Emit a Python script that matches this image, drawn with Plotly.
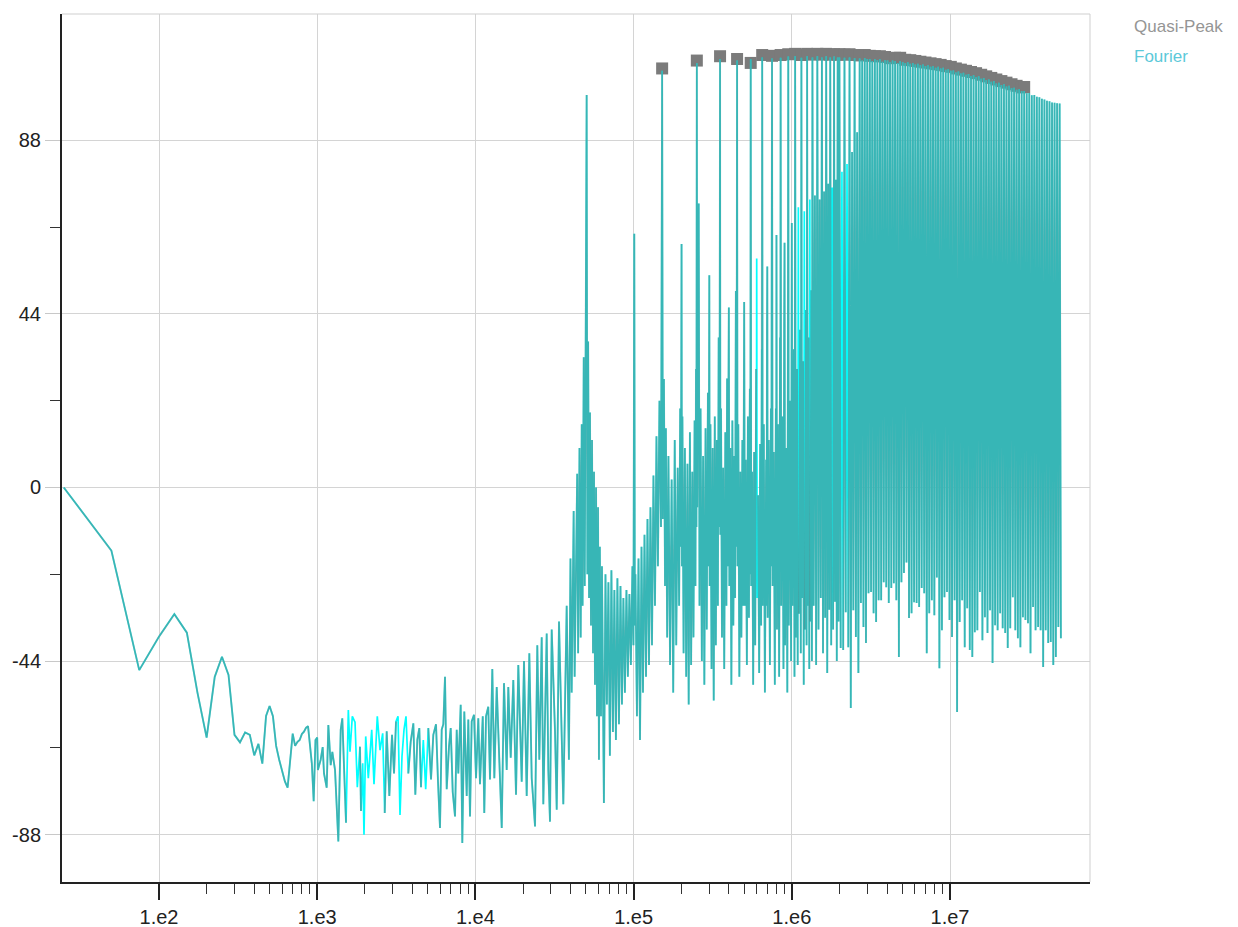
import numpy as np
import plotly.graph_objects as go

# ---------------- spectrum data ----------------
# low-frequency part, 25 Hz bins
low_freq_hz = [25, 50, 75, 100, 125, 150, 175, 200, 225, 250, 275, 300, 325, 350, 375,
               400, 425, 450, 475, 500, 525, 550, 575, 600, 625, 650, 675, 700, 725, 750,
               775, 800, 825, 850, 875, 900, 925, 950, 975]
low_db = [0, -16, -46.3, -37.8, -32.1, -36.8, -52, -63.4, -48, -42.9, -47.5, -62.7, -64.6, -62.1, -62.7,
          -67.9, -65, -70, -57.9, -55.4, -58, -65.5, -69, -72, -74.5, -76.1, -68.6, -62.4, -65.5, -64.5,
          -64, -62.5, -61.9, -60.9, -60.5, -65.7, -70, -79.5, -64]

# noise floor 1 kHz .. 40 kHz
noise_freq_hz = [1000, 1010, 1052, 1083, 1104, 1148, 1176, 1217, 1246, 1296, 1360, 1408, 1441, 1477,
                 1521, 1573, 1612, 1667, 1734, 1793, 1864, 1891, 1939, 1976, 2026, 2104, 2211, 2286,
                 2398, 2495, 2594, 2672, 2750, 2857, 2971, 3059, 3149, 3242, 3337, 3436, 3538, 3641,
                 3766, 3899, 4052, 4171, 4294, 4420, 4531, 4685, 4851, 5038, 5241, 5419, 5637, 5802,
                 5973, 6124, 6268, 6425, 6586, 6809, 6982, 7188, 7433, 7619, 7798, 8074, 8265, 8508,
                 8811, 9018, 9245, 9476, 9799, 10090, 10430, 10690, 11130, 11380, 11670, 12060, 12370,
                 12790, 13170, 13640, 14100, 14670, 15160, 15770, 16140, 16720, 17360, 18060, 18670,
                 19620, 20290, 21100, 21920, 22700, 23820, 24620, 25350, 26250, 26870, 28230, 28900,
                 29620, 30360, 31860, 32660, 33770, 35950, 37760, 39000]
noise_db = [-63.4, -71.6, -69, -65.8, -72.5, -76.1, -60.2, -70.4, -67, -71.6, -89.7, -61.4, -58.5, -69,
            -85, -56.4, -67, -58, -59.5, -76, -65.7, -82, -69.9, -88, -63.1, -73.7, -61.4, -75.2,
            -58, -66.6, -62.3, -82.5, -61.8, -78.2, -62.7, -72.5, -59.3, -58, -83, -68.1, -61.4, -58,
            -72.5, -64.5, -59.8, -77.9, -64, -61, -76, -64, -76.5, -61, -74, -62.7, -60, -74.6,
            -86.3, -61.4, -60, -48, -76.5, -65.7, -61, -77.2, -83.4, -61.4, -72.5, -55.1, -90.1, -56.8,
            -78.2, -58.8, -83.4, -59.3, -57.6, -73.7, -58.5, -75.2, -58, -82.5, -58, -55.6, -74,
            -46, -73.7, -50.6, -69, -86.3, -49.6, -71.6, -50.6, -68.5, -48.8, -77.9, -45,
            -74.6, -44, -78.2, -42, -73.7, -85.9, -40, -69, -38, -80.3, -37, -71.6,
            -84.7, -36, -61.8, -81.7, -34, -80.3, -30, -69]

# fundamental (50 kHz) with its side lobes
lobe_freq_hz = [39900, 40600, 41800, 42400, 44000, 44600, 45500, 46300, 47000, 47600, 48400, 49100,
                50500, 51000, 51600, 52300, 53000, 53800, 54600, 55400, 56200, 57000, 57900, 58700,
                59600, 60400, 61200]
lobe_db = [-18, -52, -6, -48, 3.5, -42, 10, -38, 16, -30, 33, -25,
           99.5, -22, 37, -28, 19, -35, 12, -42, 4, -50, 0, -58,
           -5, -69, -15]

# 60 kHz .. 150 kHz
gap_freq_hz = [62200, 63100, 64900, 66400, 67800, 69300, 70800, 72400, 74000, 75600, 77300, 79000,
               80800, 82600, 84400, 86200, 88100, 90100, 92000, 94100, 96100, 98300, 99800, 101000,
               101800, 102700, 105000, 107400, 109800, 112200, 114600, 117200, 119800, 122400,
               125100, 127800, 130700, 133500, 136500, 139500, 142500, 145700, 149000]
gap_db = [-58, -20, -80, -22, -55, -24, -68, -21, -62, -26, -64, -23,
          -60, -25, -55, -28, -52, -26, -48, -27, -45, -20, -40, 64.3,
          -35, -22, -58, -18, -64, -15, -52, -12, -48, -8,
          -45, -5, -40, 3, -30, 13, -20, 22, -10]

# harmonic comb 150 kHz .. 2 MHz
comb_freq_hz = [151500, 153000, 155500, 158000, 160000, 163000, 166000, 170000, 174000, 178000,
                182000, 186000, 190000, 194000, 197000, 199000, 201000, 202000, 203500, 207000,
                211000, 215000, 219000, 223000, 227000, 231000, 235000, 239000, 243000, 246000,
                248000, 249500, 251000, 252500, 258000, 261000, 265000, 270000, 275000, 280000,
                285000, 290000, 295000, 298000, 301000, 302500, 306000, 311000, 316000, 321000,
                326000, 331000, 336000, 341000, 345000, 349000, 352000, 353500, 357000, 362000,
                368000, 374000, 380000, 386000, 390000, 394000, 400000, 403000, 409000, 415000,
                421000, 427000, 433000, 438000, 443000, 447000, 451000, 453500, 459000, 466000,
                473000, 480000, 487000, 493000, 500000, 505000, 512000, 520000, 528000, 536000,
                543000, 547000, 550000, 554000, 561000, 570000, 578000, 587000, 595000, 597000,
                600000, 604000, 612000, 622000, 631000, 640000, 646000, 648000, 650000, 655000,
                665000, 676000, 688000, 693000, 697000, 698500, 700000, 704000, 715000, 727000,
                738000, 743000, 746000, 748000, 750000, 756000, 769000, 781000, 793000, 797000,
                800000, 806000, 818000, 832000, 843000, 847000, 850000, 857000, 871000, 886000,
                895000, 897000, 900000, 907000, 922000, 937000, 946000, 948000, 950000, 957000,
                973000, 990000, 1000000, 1010000, 1030000, 1040000, 1050000, 1060000, 1080000,
                1090000, 1100000, 1110000, 1130000, 1140000, 1150000, 1160000, 1180000, 1190000,
                1200000, 1210000, 1230000, 1240000, 1250000, 1260000, 1280000, 1290000, 1300000,
                1310000, 1330000, 1340000, 1350000, 1375000, 1400000, 1425000, 1450000, 1475000,
                1500000, 1525000, 1550000, 1575000, 1600000, 1625000, 1650000, 1675000, 1700000,
                1725000, 1750000, 1775000, 1800000, 1825000, 1850000, 1875000, 1900000, 1925000,
                1950000, 1975000]
comb_db = [105.6, -8, 27.5, -25, 15, -38, 8, -45, 2, -52,
           12, -40, 5, -30, 20, -15, 61.7, -20, 18, -42,
           10, -48, 6, -55, 14, -45, 4, -38, 17, -25,
           30, -10, 107.5, -5, 72, -30, 20, -44, 8, -50,
           15, -36, 24, -20, 53.8, -25, 16, -46, 10, -54,
           18, -40, 12, -30, 38, -10, 108.6, -12, 20, -38,
           5, -46, 14, -30, 27.6, -20, 45.6, -25, 10, -50,
           17, -35, 8, -28, 49.8, -15, 108.2, -20, 16, -48,
           4, -38, 12, -30, 47, -30, 7, -45, 18, -33,
           25, -22, 108.5, -25, 4, -50, 9, -40, 30, -20,
           58, -28, -2, -47, 11, -35, 35, -15, 109.0, -30,
           16, -52, 7, -30, 40, -10, 56, -33, 12, -45,
           20, -20, 45, -5, 108.7, -25, 9, -50, 20, -20,
           64, -36, 16, -48, 38, -10, 108.9, -30, 18, -46,
           42, -10, 62, -40, 10, -52, 48, -8, 109.2, -35,
           22, -44, 67, -30, 35, -48, 109.3, -38, 30,
           -45, 71, -32, 40, -42, 108.9, -28, 32, -50,
           70, -36, 45, -40, 109.3, -30, 38, -46, 73,
           -34, 50, -44, 109.0, -30, 74, -45, 109.3, -36,
           73, -28, 109.0, -42, 75, -33, 109.3, -47, 77,
           -31, 109.0, -40, 76, -36, 109.2, -29, 78, -44,
           109.0, -34]

# dense comb 2 MHz .. 50 MHz: peak and floor samples (MHz)
dense_peak_mhz = [2.000, 2.075, 2.153, 2.234, 2.317, 2.404, 2.495, 2.588, 2.685, 2.786,
                  2.891, 2.999, 3.112, 3.228, 3.350, 3.475, 3.606, 3.741, 3.882, 4.027,
                  4.178, 4.335, 4.498, 4.667, 4.842, 5.023, 5.212, 5.408, 5.610, 5.821,
                  6.039, 6.266, 6.501, 6.745, 6.998, 7.261, 7.534, 7.816, 8.110, 8.414,
                  8.730, 9.057, 9.397, 9.750, 10.12, 10.50, 10.89, 11.30, 11.72, 12.16,
                  12.62, 13.09, 13.58, 14.09, 14.62, 15.17, 15.74, 16.33, 16.94, 17.58,
                  18.24, 18.92, 19.63, 20.37, 21.13, 21.93, 22.75, 23.60, 24.49, 25.41,
                  26.36, 27.35, 28.38, 29.44, 30.55, 31.70, 32.89, 34.12, 35.40, 36.73,
                  38.11, 39.54, 41.02, 42.56, 44.16, 45.81, 47.53, 49.32]
dense_peak_db = [109.0, 80, 108.9, 82, 109.0, 85, 108.8, 90, 108.7, 108.2,
                 108.8, 108.5, 108.6, 108.1, 108.5, 108.3, 108.5, 107.9, 108.3, 108.2,
                 107.8, 108.2, 108.0, 107.6, 108.0, 107.8, 107.5, 107.8, 107.4, 107.6,
                 107.2, 107.4, 107.0, 107.2, 106.8, 107.0, 106.6, 106.8, 106.4, 106.6,
                 106.2, 106.4, 105.9, 106.0, 105.6, 105.7, 105.2, 105.4, 104.9, 105.1,
                 104.6, 104.8, 104.3, 104.5, 104.0, 104.2, 103.6, 103.8, 103.2, 103.4,
                 102.8, 103.0, 102.4, 102.6, 102.0, 102.2, 101.6, 101.8, 101.2, 101.3,
                 100.8, 100.9, 100.4, 100.5, 99.9, 100.0, 99.4, 99.5, 99.0, 98.9,
                 98.5, 98.3, 98.0, 97.9, 97.6, 97.5, 97.4, 97.3]
dense_floor_mhz = [2.037, 2.113, 2.193, 2.275, 2.360, 2.449, 2.541, 2.636, 2.735, 2.838,
                   2.944, 3.055, 3.170, 3.289, 3.412, 3.540, 3.673, 3.811, 3.954, 4.102,
                   4.256, 4.416, 4.581, 4.753, 4.932, 5.117, 5.309, 5.508, 5.715, 5.929,
                   6.152, 6.383, 6.622, 6.871, 7.129, 7.396, 7.674, 7.962, 8.260, 8.570,
                   8.892, 9.226, 9.572, 9.931, 10.30, 10.69, 11.09, 11.51, 11.94, 12.39,
                   12.85, 13.34, 13.84, 14.35, 14.89, 15.45, 16.03, 16.63, 17.26, 17.91,
                   18.58, 19.28, 20.00, 20.75, 21.53, 22.34, 23.17, 24.04, 24.95, 25.88,
                   26.85, 27.86, 28.91, 29.99, 31.12, 32.28, 33.50, 34.75, 36.06, 37.41,
                   38.82, 40.27, 41.78, 43.35, 44.98, 46.67, 48.42, 50.23]
dense_floor_db = [-40.7, -41.2, -31.6, -40.5, -55.9, -31.1, -37.9, -47.0, -29.3, -35.4,
                  -39.4, -26.8, -26.5, -31.9, -34.1, -28.6, -28.6, -24.0, -25.3, -29.3,
                  -25.5, -24.3, -28.6, -43.0, -24.0, -21.7, -19.0, -33.1, -31.9, -29.1,
                  -29.3, -30.3, -25.5, -26.8, -42.0, -31.9, -28.6, -32.4, -22.8, -45.8,
                  -36.2, -27.8, -26.5, -33.6, -37.9, -28.6, -56.9, -34.1, -28.6, -40.5,
                  -30.6, -41.2, -43.0, -36.7, -36.2, -26.5, -38.7, -32.9, -36.9, -31.1,
                  -44.5, -34.9, -36.2, -31.9, -35.7, -36.9, -40.7, -35.7, -27.8, -36.2,
                  -38.2, -40.5, -32.9, -33.6, -34.4, -42.0, -30.3, -36.2, -35.4, -36.2,
                  -45.5, -36.2, -39.4, -39.2, -45.0, -43.0, -35.4, -38.2]

# quasi-peak detector readings (150 kHz .. 30 MHz)
qp_freq_hz = [151.5e3, 251e3, 352e3, 451e3, 550e3, 650e3, 750e3, 850e3, 950e3, 1.05e6,
              1.15e6, 1.25e6, 1.35e6, 1.45e6, 1.55e6, 1.65e6, 1.75e6, 1.85e6, 1.95e6,
              2.000e6, 2.153e6, 2.317e6, 2.495e6, 2.685e6, 2.891e6, 3.112e6, 3.350e6, 3.606e6,
              3.882e6, 4.178e6, 4.498e6, 4.842e6, 5.212e6, 5.610e6, 6.039e6, 6.501e6, 6.998e6,
              7.534e6, 8.110e6, 8.730e6, 9.397e6, 10.12e6, 10.89e6, 11.72e6, 12.62e6, 13.58e6,
              14.62e6, 15.74e6, 16.94e6, 18.24e6, 19.63e6, 21.13e6, 22.75e6, 24.49e6, 26.36e6,
              28.38e6, 29.44e6]
qp_db = [106.2, 108.2, 109.3, 108.6, 107.6, 109.6, 109.4, 109.6, 109.8, 109.9,
         109.6, 109.9, 109.7, 109.9, 109.7, 109.9, 109.7, 109.8, 109.7,
         109.8, 109.7, 109.8, 109.6, 109.5, 109.6, 109.4, 109.3, 109.3,
         109.1, 108.8, 108.9, 108.9, 108.4, 108.3, 108.1, 107.9, 107.7,
         107.5, 107.3, 107.1, 106.8, 106.6, 106.2, 105.9, 105.6, 105.3,
         105.0, 104.6, 104.2, 103.8, 103.4, 103.0, 102.6, 102.2, 101.8,
         101.4, 101.5]

# stretches where the quasi-peak trace does not follow the spectrum
qp_open_bands_hz = [(1.55e3, 1.8e3), (1.93e3, 2.25e3), (2.35e3, 2.6e3), (3.2e3, 3.7e3),
                    (4.6e3, 4.9e3), (5.96e5, 6.05e5), (1.095e6, 1.105e6), (1.195e6, 1.205e6),
                    (1.295e6, 1.305e6), (1.795e6, 1.805e6), (2.07e6, 2.08e6), (2.23e6, 2.24e6)]

x_tick_vals = [1e2, 1e3, 1e4, 1e5, 1e6, 1e7]
x_tick_text = ["1.e2", "1.e3", "1.e4", "1.e5", "1.e6", "1.e7"]
x_minor_vals = [m * d for d in (1e2, 1e3, 1e4, 1e5, 1e6) for m in range(2, 10)]
y_tick_vals = [-88, -44, 0, 44, 88]
y_tick_text = ["-88", "-44", "0", "44", "88"]
y_minor_vals = [-66, -22, 22, 66]

# ---------------- assemble series ----------------
dense_hz, dense_db = [], []
for fp, vp, ff, vf in zip(dense_peak_mhz, dense_peak_db, dense_floor_mhz, dense_floor_db):
    dense_hz += [fp * 1e6, ff * 1e6]
    dense_db += [vp, vf]

freq_hz = np.array(low_freq_hz + noise_freq_hz + lobe_freq_hz + gap_freq_hz
                   + comb_freq_hz + dense_hz, dtype=float)
fourier_db = np.array(low_db + noise_db + lobe_db + gap_db + comb_db + dense_db, dtype=float)

qp_trace_db = fourier_db.astype(object)
for lo, hi in qp_open_bands_hz:
    qp_trace_db[(freq_hz > lo) & (freq_hz < hi)] = None

# ---------------- figure ----------------
fig = go.Figure()
fig.add_trace(go.Scatter(x=qp_freq_hz, y=qp_db, mode="markers", name="Quasi-Peak",
                         marker=dict(symbol="square", size=12, color="#7b7b7b",
                                     line=dict(width=0)), hoverinfo="skip"))
fig.add_trace(go.Scatter(x=freq_hz, y=fourier_db, mode="lines", name="Fourier",
                         line=dict(color="#00ffff", width=1.7)))
fig.add_trace(go.Scatter(x=freq_hz, y=qp_trace_db, mode="lines", name="Quasi-Peak",
                         connectgaps=False, showlegend=False,
                         line=dict(color="rgba(110,110,110,0.5)", width=1.9)))

fig.update_layout(
    width=1238, height=927,
    margin=dict(l=62, r=148, t=14, b=45, autoexpand=False),
    paper_bgcolor="white", plot_bgcolor="white",
    showlegend=False,
    font=dict(family="Liberation Sans, Arial, sans-serif", size=21, color="#222222"),
)
fig.update_xaxes(
    type="log", range=[1.3868, 7.885], automargin=False,
    tickmode="array", tickvals=x_tick_vals, ticktext=x_tick_text,
    ticks="outside", ticklen=16, tickwidth=1.5, tickcolor="#222222",
    tickfont=dict(size=20),
    showgrid=True, gridcolor="#d4d4d4", gridwidth=1,
    showline=True, linecolor="#222222", linewidth=2, zeroline=False,
    minor=dict(ticks="outside", ticklen=10, tickwidth=1, tickcolor="#333333",
               tickmode="array", tickvals=x_minor_vals, showgrid=False),
)
fig.update_yaxes(
    range=[-100, 120], automargin=False,
    tickmode="array", tickvals=y_tick_vals, ticktext=y_tick_text,
    ticks="outside", ticklen=15, tickwidth=1, tickcolor="#c8c8c8",
    tickfont=dict(size=20),
    showgrid=True, gridcolor="#d4d4d4", gridwidth=1,
    showline=True, linecolor="#222222", linewidth=2, zeroline=False,
    minor=dict(ticks="outside", ticklen=10, tickwidth=1, tickcolor="#333333",
               tickmode="array", tickvals=y_minor_vals, showgrid=False),
)

# light frame on top and right of the plotting area
fig.add_shape(type="line", xref="paper", yref="paper", x0=0, x1=1, y0=1, y1=1,
              line=dict(color="#cfcfcf", width=1))
fig.add_shape(type="line", xref="paper", yref="paper", x0=1, x1=1, y0=0, y1=1,
              line=dict(color="#cfcfcf", width=1))

# legend as coloured labels
fig.add_annotation(text="Quasi-Peak", xref="paper", yref="paper", x=1.0405, y=0.9855,
                   xanchor="left", yanchor="middle", showarrow=False,
                   font=dict(size=17, color="#959595"))
fig.add_annotation(text="Fourier", xref="paper", yref="paper", x=1.0405, y=0.9510,
                   xanchor="left", yanchor="middle", showarrow=False,
                   font=dict(size=17, color="#5cc9d9"))

fig.write_html("out.html")
